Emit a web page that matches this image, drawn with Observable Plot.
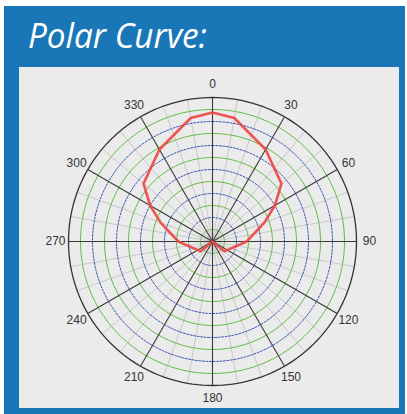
<!DOCTYPE html>
<html>
<head>
<meta charset="utf-8">
<script src="https://cdn.jsdelivr.net/npm/d3@7"></script>
<script src="https://cdn.jsdelivr.net/npm/@observablehq/plot@0.6"></script>
<style>
  html, body { margin: 0; padding: 0; background: #ffffff; }
  #frame { position: absolute; left: 4px; top: 6px; width: 401px; height: 408px; background: #1a77b7; }
  #title { position: absolute; left: 24px; top: 7px; color: #ffffff; font-family: "Open Sans", sans-serif;
           font-style: italic; font-size: 34px; line-height: 44px; white-space: nowrap;
           transform-origin: left center; transform: scaleX(0.98); }
  #panel { position: absolute; left: 15px; top: 61px; width: 380px; height: 341px; background: #ebebeb; }
  #panel svg { display: block; }
</style>
</head>
<body>
<div id="frame">
  <div id="title">Polar Curve:</div>
  <div id="panel"></div>
</div>
<script>
// Curve data: angle (degrees, clockwise from 0 at top) and radius value
const curveAngles = [0, 10, 30, 50, 60, 70, 90, 130, 180, 230, 270, 290, 300, 310, 330, 350, 360];
const curveRadii  = [10.75, 10.45, 8.85, 7.5, 6.0, 4.6, 2.85, 1.28, 0, 1.28, 2.85, 4.6, 6.0, 7.5, 8.85, 10.45, 10.75];

// Angular tick labels
const tickAngles = [0, 30, 60, 90, 120, 150, 180, 210, 240, 270, 300, 330];
const tickLabels = ["0", "30", "60", "90", "120", "150", "180", "210", "240", "270", "300", "330"];

// Radial grid rings
const greenRings = [1, 3, 5, 7, 9, 11];
const blueRings  = [2, 4, 6, 8, 10];
const outerRadius = 12;
const minorSpokes = d3.range(0, 360, 10).filter(a => a % 30 !== 0);
const majorSpokes = d3.range(0, 360, 30);

const rad = a => a * Math.PI / 180;
const px = (r, a) => r * Math.sin(rad(a));
const py = (r, a) => r * Math.cos(rad(a));

const circleSteps = d3.range(0, 361, 2);
const ringPoints = rs => rs.flatMap(r => circleSteps.map(a => ({r, a})));

const curve = curveAngles.map((a, i) => ({a, r: curveRadii[i]}));
const labels = tickAngles.map((a, i) => ({a, t: tickLabels[i]}));
const labelR = 13.08;

const W = 380, H = 341, cx = 193, cy = 174, unit = 12;

const chart = Plot.plot({
  width: W,
  height: H,
  margin: 0,
  style: { background: "transparent", fontFamily: "Liberation Sans, Arial, sans-serif" },
  x: { domain: [-cx / unit, (W - cx) / unit], range: [0, W], axis: null },
  y: { domain: [-(H - cy) / unit, cy / unit], range: [H, 0], axis: null },
  marks: [
    Plot.link(minorSpokes, {
      x1: 0, y1: 0,
      x2: a => px(outerRadius, a), y2: a => py(outerRadius, a),
      stroke: "#c9c9c9", strokeWidth: 1
    }),
    Plot.line(ringPoints(greenRings), {
      x: d => px(d.r, d.a), y: d => py(d.r, d.a), z: "r",
      stroke: "#62bb46", strokeWidth: 1
    }),
    Plot.line(ringPoints(blueRings), {
      x: d => px(d.r, d.a), y: d => py(d.r, d.a), z: "r",
      stroke: "#3a55b0", strokeWidth: 1, strokeDasharray: "2,1.5"
    }),
    Plot.link(majorSpokes, {
      x1: 0, y1: 0,
      x2: a => px(outerRadius, a), y2: a => py(outerRadius, a),
      stroke: "#3a3a3a", strokeWidth: 1.1
    }),
    Plot.line(circleSteps, {
      x: a => px(outerRadius, a), y: a => py(outerRadius, a),
      stroke: "#333333", strokeWidth: 1.3
    }),
    Plot.line(curve, {
      x: d => px(d.r, d.a), y: d => py(d.r, d.a),
      stroke: "#ec4540", strokeWidth: 2.6, strokeOpacity: 0.9, strokeLinejoin: "round"
    }),
    Plot.text(labels, {
      x: d => px(labelR, d.a), y: d => py(labelR, d.a), text: "t",
      fill: "#333333", fontSize: 12, textAnchor: "middle", lineAnchor: "middle"
    })
  ]
});
document.getElementById("panel").appendChild(chart);
</script>
</body>
</html>
